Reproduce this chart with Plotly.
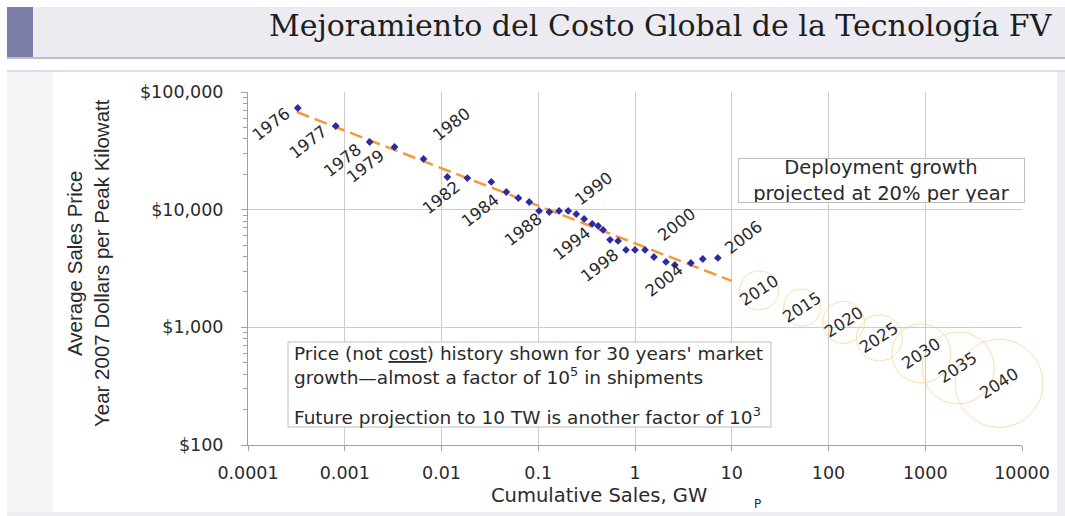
import numpy as np
import plotly.graph_objects as go

# Historical PV module price (year-2007 $/kWp) against cumulative shipments (GWp)
years = list(range(1976, 2007))
cum_gw = [0.000327, 0.000807, 0.00181, 0.00327, 0.00652, 0.0115, 0.0185, 0.0327,
          0.0468, 0.0622, 0.0807, 0.102, 0.130, 0.164, 0.204, 0.247, 0.298, 0.361,
          0.416, 0.468, 0.552, 0.668, 0.807, 1.0, 1.27, 1.57, 2.09, 2.58, 3.78,
          5.02, 7.18]
price = [73100, 51400, 37600, 34100, 27000, 18950, 18570, 17200, 14130, 12570,
         11620, 9750, 9550, 9750, 9750, 9180, 8340, 7560, 7280, 6730, 5540, 5420,
         4550, 4550, 4550, 3960, 3600, 3390, 3520, 3810, 3890]

# Years that carry a label, and where each label sits relative to its point (px)
labeled_years = [1976, 1977, 1978, 1979, 1980, 1982, 1984, 1988, 1990, 1994,
                 1998, 2000, 2004, 2006]
label_dx = [-27, -28, -27, -29, 28, -26, -26, -26, 26, -26, -26, 32, -27, 26]
label_dy = [16, 16, 19, 20, -34, 19, 18, 17, -22, 18, 16, -25, 17, -20]

# Experience-curve fit through the historical data
trend_gw = [0.00032, 10]
trend_price = [67600, 2480]

# Projection at 20 % deployment growth per year (bubble size grows with output)
proj_years = [2010, 2015, 2020, 2025, 2030, 2035, 2040]
proj_gw = [19.2, 53.3, 143, 336, 910, 2190, 5800]
proj_price = [2060, 1476, 1101, 813, 600, 452, 334]
proj_size = [39, 37, 42, 46, 59, 72, 88]

# Axis ticks
x_tickvals = [1e-4, 1e-3, 1e-2, 1e-1, 1, 10, 100, 1000, 10000]
x_ticktext = ["0.0001", "0.001", "0.01", "0.1", "1", "10", "100", "1000", "10000"]
y_tickvals = [100, 1000, 10000, 100000]
y_ticktext = ["$100", "$1,000", "$10,000", "$100,000"]

W, H = 1065, 516
L, R, T, B = 248, 1022, 92, 445
FONT = "DejaVu Sans"
TXT = "#2a2a2a"


def px(x):
    return (x - L) / (R - L)


def py(y):
    return (B - y) / (B - T)


fig = go.Figure()

fig.add_trace(go.Scatter(
    x=proj_gw, y=proj_price, mode="markers", cliponaxis=False,
    marker=dict(symbol="circle-open", size=proj_size, color="#f7d08a",
                line=dict(width=1, color="#f7d08a")),
    text=proj_years, hoverinfo="text", showlegend=False))

fig.add_trace(go.Scatter(
    x=trend_gw, y=trend_price, mode="lines",
    line=dict(color="#f39a3a", width=2.5, dash="13px,6px"),
    hoverinfo="skip", showlegend=False))

fig.add_trace(go.Scatter(
    x=cum_gw, y=price, mode="markers",
    marker=dict(symbol="diamond", size=6, color="#2c2ca0"),
    text=years, showlegend=False))

annotations = []

# Year labels on the historical points
for yr, dx, dy in zip(labeled_years, label_dx, label_dy):
    i = years.index(yr)
    annotations.append(dict(
        x=np.log10(cum_gw[i]), y=np.log10(price[i]), xref="x", yref="y",
        text=str(yr), showarrow=True, arrowcolor="rgba(0,0,0,0)", arrowwidth=0.1,
        ax=dx, ay=dy, textangle=-38,
        font=dict(family=FONT, size=16.5, color=TXT)))

# Year inside each projection bubble
for yr, gx, pr in zip(proj_years, proj_gw, proj_price):
    annotations.append(dict(
        x=np.log10(gx), y=np.log10(pr), xref="x", yref="y", text=str(yr),
        showarrow=False, textangle=-33,
        font=dict(family=FONT, size=16.5, color=TXT)))

# Header band and page edges
shapes = [
    dict(type="rect", xref="paper", yref="paper", x0=px(33), x1=px(W), y0=py(57), y1=py(7),
         fillcolor="#ebebf1", line=dict(width=0), layer="below"),
    dict(type="rect", xref="paper", yref="paper", x0=px(7), x1=px(33), y0=py(57), y1=py(7),
         fillcolor="#7c80a9", line=dict(width=0), layer="below"),
    dict(type="line", xref="paper", yref="paper", x0=px(7), x1=px(W), y0=py(58), y1=py(58),
         line=dict(color="#a5a8c6", width=1.5)),
    dict(type="line", xref="paper", yref="paper", x0=px(7), x1=px(W), y0=py(71), y1=py(71),
         line=dict(color="#d3e2ee", width=2)),
    dict(type="rect", xref="paper", yref="paper", x0=px(1057), x1=px(W), y0=py(H), y1=py(72),
         fillcolor="#eeeef3", line=dict(width=0), layer="below"),
    dict(type="rect", xref="paper", yref="paper", x0=px(7), x1=px(W), y0=py(H), y1=py(512),
         fillcolor="#eeeef3", line=dict(width=0), layer="below"),
    dict(type="rect", xref="paper", yref="paper", x0=px(7), x1=px(53), y0=py(512), y1=py(72),
         fillcolor="#f5f5f8", line=dict(width=0), layer="below"),
    # frame of the note box
    dict(type="rect", xref="paper", yref="paper", x0=px(288), x1=px(771), y0=py(427), y1=py(342),
         fillcolor="white", line=dict(color="#bdbdbd", width=1), layer="above"),
]

annotations += [
    dict(xref="paper", yref="paper", x=px(1055), y=py(25), xanchor="right", yanchor="middle",
         text="Mejoramiento del Costo Global de la Tecnología FV", showarrow=False,
         font=dict(family="DejaVu Serif", size=30, color="#1e1e1e")),
    dict(xref="paper", yref="paper", x=px(881.5), y=py(180.5), xanchor="center", yanchor="middle",
         text="Deployment growth<br>projected at 20% per year", showarrow=False,
         width=285, height=43, bgcolor="white", bordercolor="#bdbdbd", borderwidth=1,
         borderpad=0, font=dict(family=FONT, size=19.5, color=TXT)),
    dict(xref="paper", yref="paper", x=px(292), y=py(365), xanchor="left", yanchor="middle",
         align="left", showarrow=False,
         text="Price (not <u>cost</u>) history shown for 30 years' market<br>"
              "growth\u2014almost a factor of 10<sup>5</sup> in shipments",
         font=dict(family=FONT, size=18.5, color=TXT)),
    dict(xref="paper", yref="paper", x=px(292), y=py(416), xanchor="left", yanchor="middle",
         align="left", showarrow=False,
         text="Future projection to 10 TW is another factor of 10<sup>3</sup>",
         font=dict(family=FONT, size=18.5, color=TXT)),
    dict(xref="paper", yref="paper", x=px(88), y=py(263), xanchor="center", yanchor="middle",
         textangle=-90, showarrow=False,
         text="Average Sales Price<br>Year 2007 Dollars per Peak Kilowatt",
         font=dict(family="Liberation Sans", size=20.5, color=TXT)),
    dict(xref="paper", yref="paper", x=px(599), y=py(495), xanchor="center", yanchor="middle",
         text="Cumulative Sales, GW", showarrow=False,
         font=dict(family=FONT, size=19.5, color=TXT)),
    dict(xref="paper", yref="paper", x=px(757), y=py(504), xanchor="center", yanchor="middle",
         text="P", showarrow=False,
         font=dict(family=FONT, size=12, color=TXT)),
]

fig.update_layout(
    width=W, height=H,
    margin=dict(l=L, r=W - R, t=T, b=H - B, pad=0),
    paper_bgcolor="white", plot_bgcolor="white",
    shapes=shapes, annotations=annotations,
    font=dict(family=FONT, size=16, color=TXT),
)

fig.update_xaxes(
    type="log", range=[-4, 4], tickvals=x_tickvals, ticktext=x_ticktext,
    showgrid=True, gridcolor="#cccccc", gridwidth=1,
    showline=True, linecolor="#a0a0a0", linewidth=1,
    ticks="outside", ticklen=5, tickcolor="#a0a0a0", ticklabelstandoff=7,
    tickfont=dict(family=FONT, size=17.5, color=TXT), zeroline=False,
)
fig.update_yaxes(
    type="log", range=[2, 5], tickvals=y_tickvals, ticktext=y_ticktext,
    showgrid=True, gridcolor="#cccccc", gridwidth=1,
    showline=True, linecolor="#a0a0a0", linewidth=1,
    ticks="outside", ticklen=6, tickcolor="#a0a0a0", ticklabelstandoff=14,
    minor=dict(ticks="outside", ticklen=4, tickcolor="#a0a0a0", dtick="D1", showgrid=False),
    tickfont=dict(family=FONT, size=17.5, color=TXT), zeroline=False,
)

fig.write_html("out.html")
